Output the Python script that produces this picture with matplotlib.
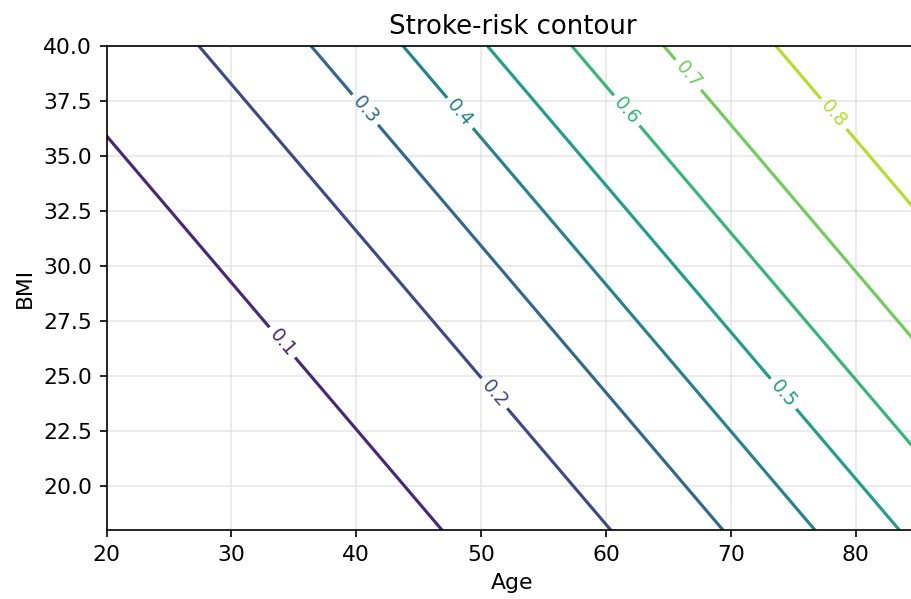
import numpy as np
import matplotlib
matplotlib.use("Agg")
import matplotlib.pyplot as plt
from matplotlib.colors import Normalize

# Logistic risk model
intercept = -6.63
coef_age = 0.06
coef_bmi = 0.09

age_range = [20, 85]
bmi_range = [18, 40]
levels = [0.1, 0.2, 0.3, 0.4, 0.5, 0.6, 0.7, 0.8]
x_ticks = [20, 30, 40, 50, 60, 70, 80]
y_ticks = [20.0, 22.5, 25.0, 27.5, 30.0, 32.5, 35.0, 37.5, 40.0]

# where each contour label sits (age, BMI)
label_age = [34.0, 51.0, 40.5, 48.4, 74.2, 61.7, 66.6, 78.2]
label_bmi = [26.5, 24.2, 37.0, 37.0, 24.2, 37.1, 38.7, 36.9]

age = np.linspace(age_range[0], age_range[1], 300)
bmi = np.linspace(bmi_range[0], bmi_range[1], 300)
A, B = np.meshgrid(age, bmi)
risk = 1.0 / (1.0 + np.exp(-(intercept + coef_age * A + coef_bmi * B)))

fig = plt.figure(figsize=(911 / 150, 599 / 150), dpi=150)
ax = fig.add_axes([106.5 / 911, (599 - 530.3) / 599, (918.3 - 106.5) / 911, (530.3 - 46) / 599])

cs = ax.contour(A, B, risk, levels=levels, cmap="viridis",
                norm=Normalize(vmin=0.0, vmax=0.9), linewidths=1.5)
ax.clabel(cs, inline=True, fontsize=9, fmt="%.1f",
          manual=list(zip(label_age, label_bmi)))

ax.set_xlim(age_range)
ax.set_ylim(bmi_range)
ax.set_xticks(x_ticks)
ax.set_yticks(y_ticks)
ax.set_yticklabels([f"{v:.1f}" for v in y_ticks])
ax.grid(True, color="#d9d9d9", linewidth=0.8, alpha=0.6)
ax.set_axisbelow(True)
ax.spines["right"].set_visible(False)
ax.tick_params(labelsize=10.5)
ax.set_xlabel("Age", fontsize=10.5)
ax.set_ylabel("BMI", fontsize=10.5)
ax.set_title("Stroke-risk contour", fontsize=12.5)

fig.savefig("out.png", dpi=150)
